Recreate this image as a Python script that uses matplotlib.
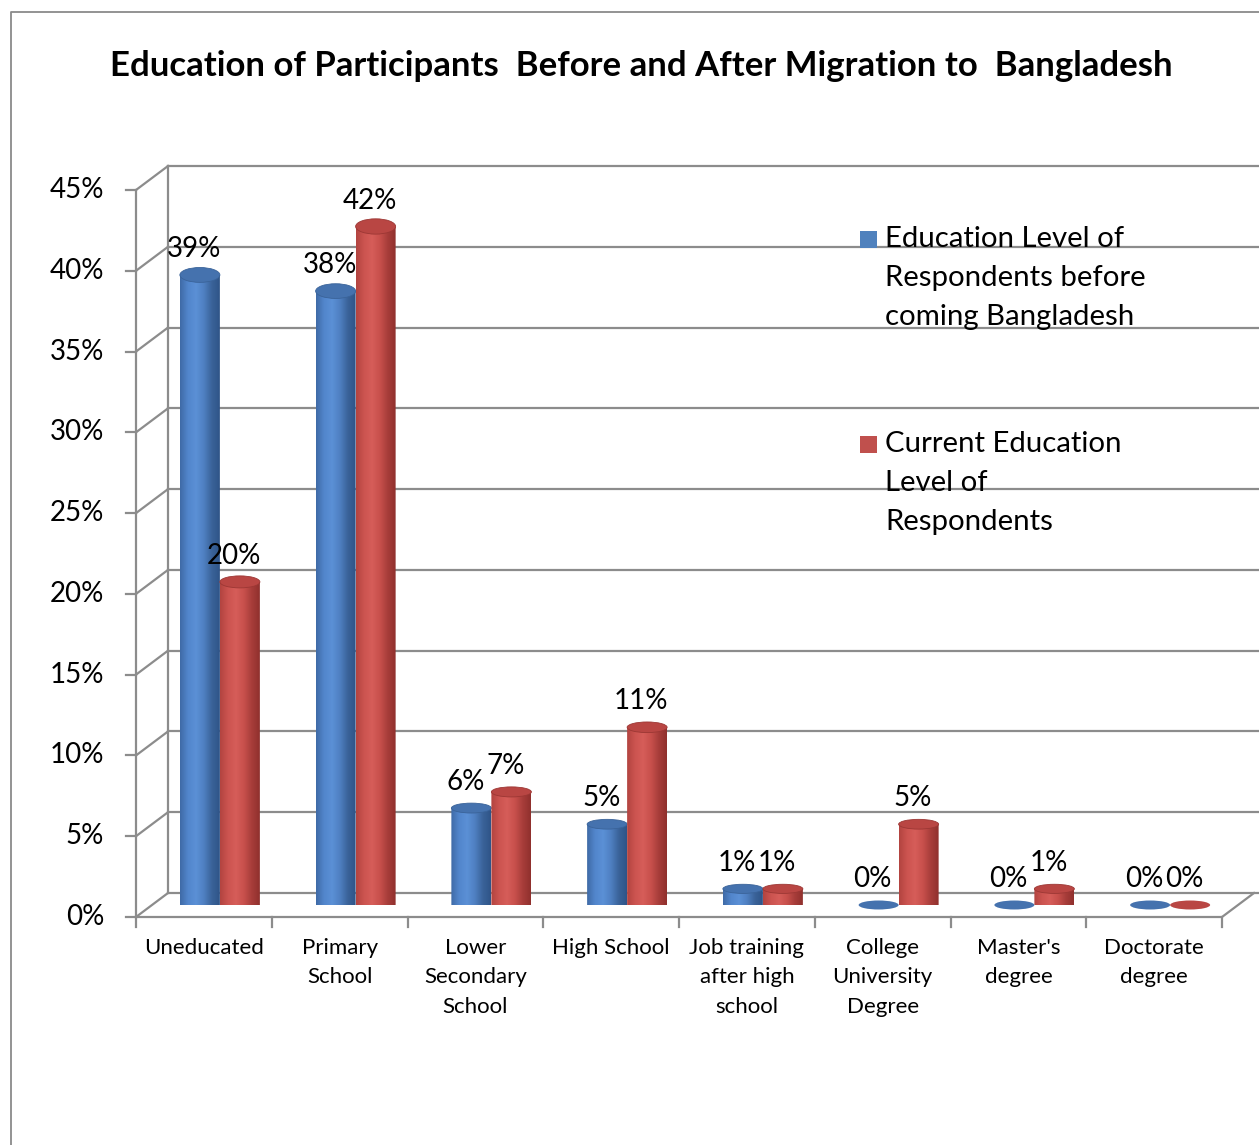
import numpy as np
import matplotlib.pyplot as plt
from matplotlib.colors import LinearSegmentedColormap
from matplotlib.patches import Ellipse, PathPatch, Rectangle
from matplotlib.path import Path
from matplotlib.lines import Line2D

plt.rcParams['font.family'] = ['Lato', 'DejaVu Sans']

# data
categories = ['Uneducated', 'Primary\nSchool', 'Lower\nSecondary\nSchool', 'High School',
              'Job training\nafter high\nschool', 'College\nUniversity\nDegree',
              "Master's\ndegree", 'Doctorate\ndegree']
before = [39, 38, 6, 5, 1, 0, 0, 0]
current = [20, 42, 7, 11, 1, 5, 1, 0]
series_names = ['Education Level of\nRespondents before\ncoming Bangladesh',
                'Current Education\nLevel of\nRespondents']
yticks = list(range(0, 50, 5))
title = 'Education of Participants  Before and After Migration to  Bangladesh'

W, H = 1259, 1145
fig = plt.figure(figsize=(W / 100, H / 100), dpi=100)

# mid-depth plane of the 3d box
ax = fig.add_axes([152 / W, (H - 905) / H, 1086 / W, 727 / H])
PX_CAT = 1086 / 8
PX_PCT = 727 / 45
DX = 16 / PX_CAT   # half depth, category units
DY = 12 / PX_PCT   # half depth, percent units
GRID = '#8c8c8c'

def fx(px):
    return px / W

def fy(py):
    return 1 - py / H

# walls and floor
n = len(categories)
xl = -0.5
xr = n - 0.5
for v in yticks:
    ax.plot([xl + DX, xr + DX + 0.05], [v + DY, v + DY], color=GRID, lw=1.6, zorder=1, clip_on=False)
    ax.plot([xl - DX, xl + DX], [v - DY, v + DY], color=GRID, lw=1.6, zorder=1, clip_on=False)
    ax.plot([xl - DX - 0.075, xl - DX], [v - DY, v - DY], color=GRID, lw=1.6, zorder=1, clip_on=False)
    ax.text(xl - DX - 0.235, v - DY, f'{v}%', ha='right', va='center', fontsize=20, color='black')
ax.plot([xl + DX, xl + DX], [DY, yticks[-1] + DY], color=GRID, lw=1.6, zorder=1, clip_on=False)
ax.plot([xl - DX, xl - DX], [-DY, yticks[-1] - DY], color=GRID, lw=1.6, zorder=1, clip_on=False)
ax.plot([xl - DX, xr - DX, xr + DX], [-DY, -DY, DY], color=GRID, lw=1.6, zorder=1, clip_on=False)
for k in range(n + 1):
    ax.plot([k - 0.5 - DX] * 2, [-DY, -DY - 0.6], color=GRID, lw=1.6, zorder=1, clip_on=False)

# category labels, one line at a time
for i, cat in enumerate(categories):
    for j, line in enumerate(cat.split('\n')):
        ax.text(i - DX, -DY - 1.9 - j * 1.83, line, ha='center', va='center', fontsize=16)

blue_cmap = LinearSegmentedColormap.from_list('b', ['#3f6aa6', '#5286cc', '#5b90d6', '#4f80c2', '#3a6399', '#2f5488'])
red_cmap = LinearSegmentedColormap.from_list('r', ['#b24440', '#cc5450', '#d65d59', '#c8504c', '#a73d3a', '#8f302d'])

def cylinder(xc, w, v, cmap, top_col, edge_col, z):
    h_bot = 9 / PX_PCT
    if v <= 0:
        ax.add_patch(Ellipse((xc, 0), w, h_bot, facecolor=top_col, edgecolor='none', zorder=z, clip_on=False))
        return
    h_top = (9 + 0.15 * v) / PX_PCT
    x0, x1 = xc - w / 2, xc + w / 2
    t = np.linspace(np.pi, 2 * np.pi, 40)
    arc = np.column_stack([xc + w / 2 * np.cos(t), h_bot / 2 * np.sin(t)])
    verts = np.vstack([[x0, v], [x0, 0], arc, [x1, 0], [x1, v], [x0, v]])
    codes = [Path.MOVETO] + [Path.LINETO] * (len(verts) - 2) + [Path.CLOSEPOLY]
    clip = PathPatch(Path(verts, codes), transform=ax.transData, facecolor='none', edgecolor='none')
    grad = np.linspace(0, 1, 128)[None, :]
    im = ax.imshow(grad, cmap=cmap, extent=[x0, x1, -h_bot, v], aspect='auto',
                   interpolation='bilinear', zorder=z)
    im.set_clip_path(clip)
    im.set_clip_box(None)
    ax.add_patch(Ellipse((xc, v), w, h_top, facecolor=top_col, edgecolor=edge_col, lw=0.6,
                         zorder=z + 0.1, clip_on=False))

bw = 40 / PX_CAT
off = 20 / PX_CAT
for i in range(n):
    cylinder(i - off, bw, before[i], blue_cmap, '#4572ae', '#3a6399', 3)
    cylinder(i + off, bw, current[i], red_cmap, '#b94643', '#9c3734', 3.5)
    ax.text(i - off - 0.044, before[i] + 1.6, f'{before[i]}%', ha='center', va='center', fontsize=20)
    ax.text(i + off - 0.044, current[i] + 1.6, f'{current[i]}%', ha='center', va='center', fontsize=20)

ax.set_xlim(xl, xr)
ax.set_ylim(0, 45)
ax.axis('off')

# legend
for name, col, y0 in [(series_names[0], '#4f81bd', 239), (series_names[1], '#c0504d', 444)]:
    fig.add_artist(Rectangle((fx(860), fy(y0 + 8.5)), 17 / W, 17 / H, facecolor=col,
                             edgecolor='none', transform=fig.transFigure))
    for j, line in enumerate(name.split('\n')):
        fig.text(fx(885), fy(y0 + j * 39), line, ha='left', va='center', fontsize=21.2)

fig.text(fx(641), fy(66), title, ha='center', va='center', fontsize=25, fontweight='bold')

# chart border
fig.add_artist(Line2D([fx(11), fx(11), fx(1262)], [0, fy(12), fy(12)], color='#8a8a8a', lw=1.3,
                      transform=fig.transFigure))

fig.savefig('out.png', dpi=100, facecolor='white')
